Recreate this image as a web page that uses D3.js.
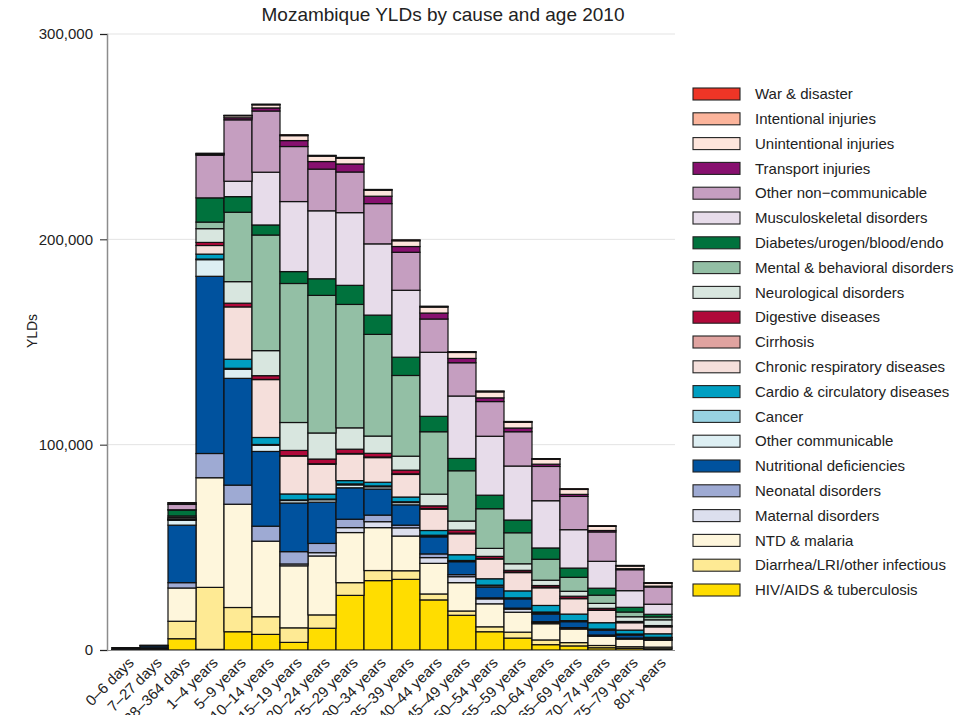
<!DOCTYPE html>
<html>
<head>
<meta charset="utf-8">
<script src="https://cdn.jsdelivr.net/npm/d3@7"></script>
<style>
  html, body { margin: 0; padding: 0; background: #fff; }
  svg { display: block; font-family: "Liberation Sans", Arial, sans-serif; }
</style>
</head>
<body>
<svg id="chart" width="965" height="715"></svg>
<script>
// Age groups along the x axis
const ages = ["0–6 days", "7–27 days", "28–364 days", "1–4 years", "5–9 years", "10–14 years",
  "15–19 years", "20–24 years", "25–29 years", "30–34 years", "35–39 years", "40–44 years",
  "45–49 years", "50–54 years", "55–59 years", "60–64 years", "65–69 years", "70–74 years",
  "75–79 years", "80+ years"];

// YLDs per cause, one value per age group
const hivTb         = [100, 100, 5500, 300, 8900, 7600, 3700, 10600, 26600, 33800, 34400, 24400, 16900, 8900, 5800, 2600, 2000, 1100, 800, 600];
const diarrheaLri   = [200, 300, 8500, 30200, 11800, 8600, 7100, 6500, 6200, 4900, 4200, 2900, 2100, 2400, 2900, 2300, 1600, 1100, 800, 800];
const ntdMalaria    = [100, 200, 16200, 53400, 50300, 36800, 30200, 28700, 24400, 20900, 16900, 14900, 13800, 11200, 9700, 7900, 6600, 4500, 3700, 3400];
const maternal      = [0, 0, 0, 0, 0, 0, 900, 1600, 2400, 2900, 4000, 2800, 2900, 2400, 1500, 600, 400, 300, 300, 100];
const neonatal      = [600, 500, 2600, 11800, 9300, 7300, 6000, 4500, 4100, 3200, 1300, 1800, 1000, 500, 500, 400, 300, 300, 200, 100];
const nutritional   = [100, 900, 28000, 86300, 52000, 36400, 23700, 20100, 15300, 12700, 9900, 8300, 6300, 5200, 4500, 3700, 2900, 2300, 1500, 700];
const otherComm     = [0, 200, 2400, 8100, 4400, 3000, 1200, 1200, 1400, 1100, 1100, 500, 400, 700, 300, 600, 300, 400, 300, 300];
const cancer        = [0, 0, 100, 300, 500, 400, 300, 300, 500, 400, 400, 300, 200, 300, 200, 400, 200, 200, 200, 200];
const cardio        = [0, 0, 200, 2400, 4400, 3400, 2900, 2400, 1600, 1800, 2300, 2300, 2800, 3100, 3400, 3200, 3200, 3100, 1900, 1700];
const chronicResp   = [0, 0, 300, 4200, 25500, 28200, 18500, 14600, 13000, 12000, 11000, 10400, 10200, 9600, 8900, 8600, 7500, 6000, 3600, 3400];
const cirrhosis     = [0, 0, 0, 0, 0, 100, 100, 200, 200, 300, 300, 300, 300, 300, 300, 300, 200, 200, 100, 100];
const digestive     = [0, 0, 100, 1500, 1800, 1800, 2600, 2300, 2100, 1800, 1800, 1300, 1500, 1000, 800, 800, 1000, 800, 500, 500];
const neurological  = [0, 0, 700, 6700, 10500, 12200, 13600, 12700, 10400, 8400, 6800, 5700, 4400, 3900, 3200, 2600, 2400, 2400, 2300, 2800];
const mental        = [0, 0, 700, 3200, 33800, 56300, 67700, 67000, 60100, 49500, 39300, 30400, 24500, 19300, 15100, 10200, 6800, 4000, 2300, 1400];
const diabetes      = [0, 0, 2900, 11800, 7600, 4900, 5800, 8100, 9300, 9400, 8900, 7500, 6000, 6600, 6200, 5500, 4500, 3400, 2300, 1300];
const musculo       = [0, 0, 100, 0, 7500, 25700, 34100, 33100, 35400, 34700, 32600, 31200, 30400, 28700, 26300, 23000, 18700, 13100, 8100, 4900];
const otherNcd      = [0, 0, 2600, 20800, 29900, 29800, 26800, 20300, 19800, 19600, 18500, 16200, 16200, 16900, 16700, 16700, 16200, 14300, 10200, 8400];
const transport     = [0, 0, 200, 300, 1000, 1500, 2900, 3700, 3900, 3600, 2800, 2900, 2100, 1800, 1800, 1100, 1000, 700, 500, 400];
const unintentional = [50, 100, 600, 500, 1000, 1500, 2400, 2600, 2800, 2900, 2800, 2900, 2900, 2900, 2800, 2400, 2400, 2000, 1300, 1400];
const intentional   = [0, 0, 0, 0, 100, 200, 300, 300, 300, 300, 300, 300, 300, 300, 300, 200, 200, 200, 200, 200];
const warDisaster   = [0, 0, 50, 100, 100, 100, 100, 100, 100, 100, 100, 100, 100, 100, 100, 100, 100, 100, 100, 100];

// Causes, stacked from the bottom up
const causeNames = ["HIV/AIDS & tuberculosis", "Diarrhea/LRI/other infectious", "NTD & malaria",
  "Maternal disorders", "Neonatal disorders", "Nutritional deficiencies", "Other communicable",
  "Cancer", "Cardio & circulatory diseases", "Chronic respiratory diseases", "Cirrhosis",
  "Digestive diseases", "Neurological disorders", "Mental & behavioral disorders",
  "Diabetes/urogen/blood/endo", "Musculoskeletal disorders", "Other non−communicable",
  "Transport injuries", "Unintentional injuries", "Intentional injuries", "War & disaster"];
const causeValues = [hivTb, diarrheaLri, ntdMalaria, maternal, neonatal, nutritional, otherComm,
  cancer, cardio, chronicResp, cirrhosis, digestive, neurological, mental, diabetes, musculo,
  otherNcd, transport, unintentional, intentional, warDisaster];
const causeColors = ["#ffdd00", "#feea94", "#fef6dc", "#dcdfee", "#9eaad3", "#00529e", "#ddeff3",
  "#98d2e2", "#009fc2", "#f5dfdb", "#e0a3a0", "#b0093a", "#d8e6df", "#93bfa5", "#00723d",
  "#e7dcea", "#c59ec0", "#87106f", "#fee5dc", "#fbb49b", "#ee3526"];

const yTicks = [0, 100000, 200000, 300000];

// Table of rows (one per age group) for d3.stack
const rows = ages.map((age, i) => {
  const r = { age };
  causeNames.forEach((c, k) => { r[c] = causeValues[k][i]; });
  return r;
});
const series = d3.stack().keys(causeNames)(rows);

const svg = d3.select("#chart");

const x = d3.scaleBand().domain(ages).range([112, 672]).padding(0);
const y = d3.scaleLinear().domain([0, 300000]).range([650, 34]);
const color = d3.scaleOrdinal().domain(causeNames).range(causeColors);

// Horizontal gridlines
svg.append("g")
  .selectAll("line")
  .data(yTicks.slice(1))
  .join("line")
  .attr("x1", 107).attr("x2", 675)
  .attr("y1", d => y(d)).attr("y2", d => y(d))
  .attr("stroke", "#e3e3e3").attr("stroke-width", 1);

// Stacked bars
svg.append("g")
  .selectAll("g")
  .data(series)
  .join("g")
  .attr("fill", d => color(d.key))
  .selectAll("rect")
  .data(d => d)
  .join("rect")
  .attr("x", d => x(d.data.age))
  .attr("width", x.bandwidth())
  .attr("y", d => y(d[1]))
  .attr("height", d => y(d[0]) - y(d[1]))
  .attr("stroke", "#111")
  .attr("stroke-width", 1.2);

// Y axis
const yAxis = svg.append("g")
  .attr("transform", "translate(107,0)")
  .call(d3.axisLeft(y).tickValues(yTicks).tickFormat(d3.format(",")).tickSize(7).tickPadding(7));
yAxis.select(".domain").attr("stroke", "#8c8c8c").attr("stroke-width", 1.5);
yAxis.selectAll(".tick line").attr("stroke", "#222");
yAxis.selectAll(".tick text").attr("font-size", 15).attr("fill", "#222")
  .attr("font-family", "'Liberation Sans', Arial, sans-serif");

// X axis baseline
svg.append("line")
  .attr("x1", 107).attr("x2", 675)
  .attr("y1", 650.5).attr("y2", 650.5)
  .attr("stroke", "#8c8c8c").attr("stroke-width", 1.2);

// X labels, rotated
svg.append("g")
  .selectAll("text")
  .data(ages)
  .join("text")
  .attr("transform", d => `translate(${x(d) + x.bandwidth() / 2 + 5},${660}) rotate(-45)`)
  .attr("text-anchor", "end")
  .attr("dy", "0.35em")
  .attr("font-size", 15)
  .attr("fill", "#222")
  .text(d => d);

// Y axis title
svg.append("text")
  .attr("transform", "translate(37,331) rotate(-90)")
  .attr("text-anchor", "middle")
  .attr("font-size", 14)
  .attr("fill", "#222")
  .text("YLDs");

// Chart title
svg.append("text")
  .attr("x", 443).attr("y", 21)
  .attr("text-anchor", "middle")
  .attr("font-size", 19)
  .attr("fill", "#222")
  .text("Mozambique YLDs by cause and age 2010");

// Legend, listed from the top of the stack down
const legendItems = causeNames.slice().reverse();
const legend = svg.append("g")
  .selectAll("g")
  .data(legendItems)
  .join("g")
  .attr("transform", (d, i) => `translate(693,${94 + i * 24.8})`);
legend.append("rect")
  .attr("x", 0).attr("y", -6)
  .attr("width", 47).attr("height", 12)
  .attr("fill", d => color(d))
  .attr("stroke", "#222").attr("stroke-width", 1.1);
legend.append("text")
  .attr("x", 62).attr("y", 0)
  .attr("dy", "0.35em")
  .attr("font-size", 15)
  .attr("fill", "#222")
  .text(d => d);
</script>
</body>
</html>
